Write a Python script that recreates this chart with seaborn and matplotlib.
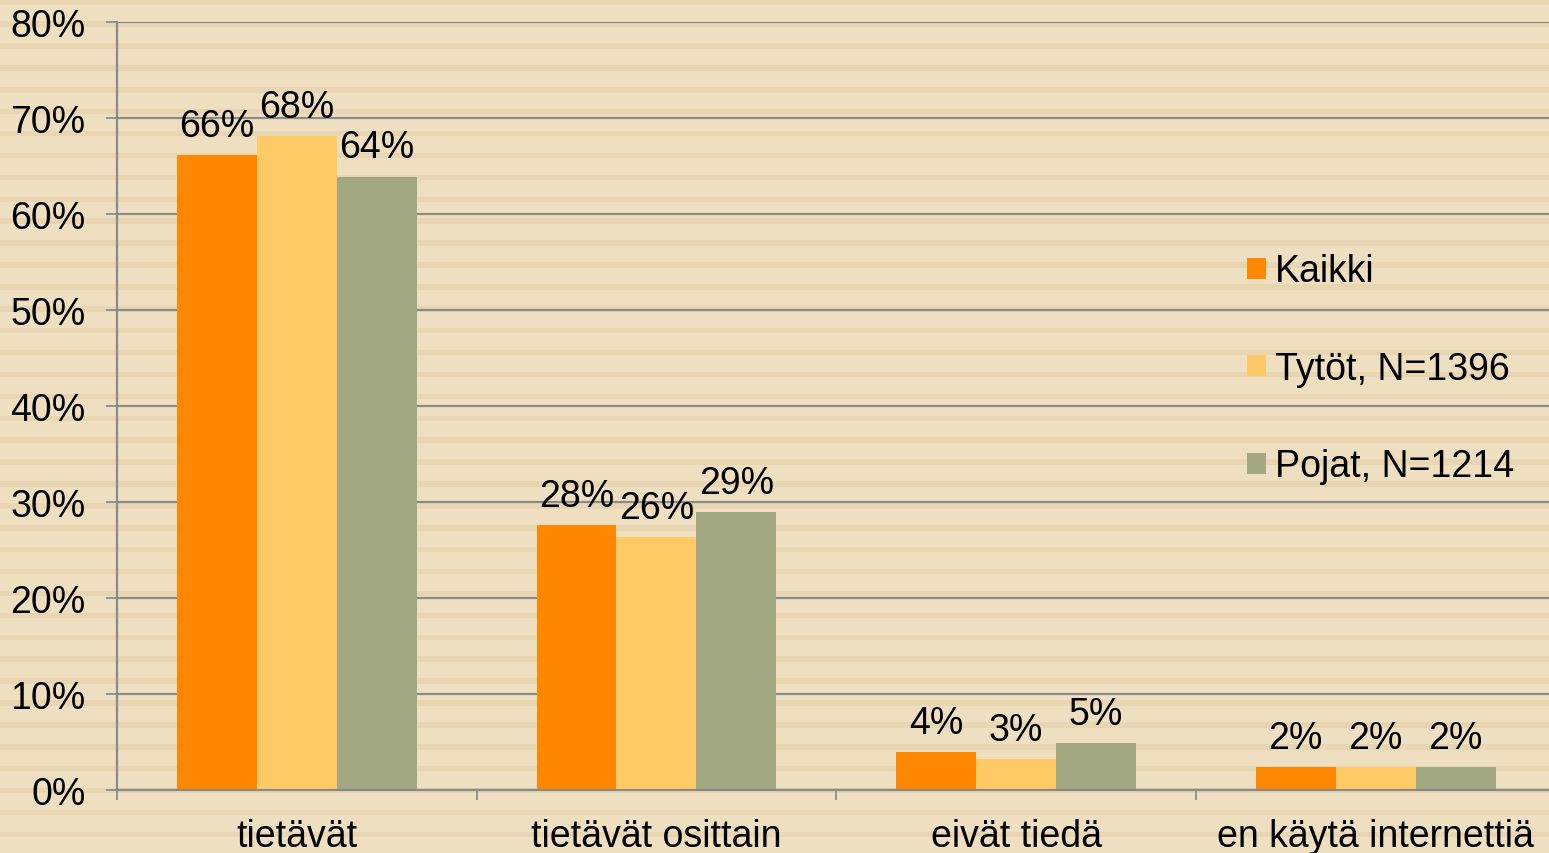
import numpy as np
import pandas as pd
import matplotlib
matplotlib.use("Agg")
import matplotlib.pyplot as plt
import seaborn as sns

# Data
categories = ["tietävät", "tietävät osittain", "eivät tiedä", "en käytä internettiä"]
groups = ["Kaikki", "Tytöt, N=1396", "Pojat, N=1214"]
kaikki = [66.1, 27.6, 3.96, 2.4]
tytot = [68.1, 26.35, 3.23, 2.4]
pojat = [63.9, 28.96, 4.9, 2.4]
y_ticks = [0, 10, 20, 30, 40, 50, 60, 70, 80]
colors = ["#FF8800", "#FFC966", "#A2A982"]

df = pd.DataFrame({
    "category": categories * 3,
    "group": [g for g in groups for _ in categories],
    "value": kaikki + tytot + pojat,
})

sns.set_theme(style="white")
plt.rcParams["font.family"] = ["Liberation Sans", "DejaVu Sans"]
FS = 27

W, H = 1549, 854
fig = plt.figure(figsize=(W / 100, H / 100), dpi=100)

# striped beige background
rows = np.arange(H)
stripe = (rows % 21.9) < 5.5
light = np.array([239, 223, 193]) / 255
dark = np.array([232, 213, 177]) / 255
bg = np.where(stripe[:, None], dark, light)
bg = np.tile(bg[:, None, :], (1, W, 1))
fig.figimage(bg, xo=0, yo=0, origin="upper", zorder=-1)

ax = fig.add_axes([117 / W, (H - 791) / H, 1 - 117 / W, 768 / H])
ax.patch.set_alpha(0)

sns.barplot(data=df, x="category", y="value", hue="group", order=categories,
            hue_order=groups, palette=colors, width=0.667, gap=0,
            saturation=1, ax=ax, linewidth=0)

for cont, vals in zip(ax.containers, [kaikki, tytot, pojat]):
    ax.bar_label(cont, labels=[f"{round(v)}%" for v in vals], padding=8,
                 fontsize=FS, color="black")

ax.set_ylim(0, 80)
ax.set_xlim(-0.5, 3.5 - 6.5 / 359.5)
ax.set_yticks(y_ticks)
ax.set_yticklabels([f"{t}%" for t in y_ticks], fontsize=FS, color="black")
ax.grid(axis="y", color="#8A8A8A", linewidth=1.6)
ax.set_axisbelow(True)

ax.set_xticks([-0.5, 0.5, 1.5, 2.5])
ax.set_xticklabels([])
ax.set_xticks(range(len(categories)), minor=True)
ax.set_xticklabels(categories, minor=True, fontsize=FS, color="black")
ax.tick_params(axis="x", which="major", direction="out", length=7,
               width=1.3, color="#8A8A8A", bottom=True)
ax.tick_params(axis="x", which="minor", length=0, pad=20, bottom=True)
ax.tick_params(axis="y", direction="out", length=8, width=1.3,
               color="#8A8A8A", pad=14.5, left=True)

for s in ["top", "right"]:
    ax.spines[s].set_visible(False)
for s in ["left", "bottom"]:
    ax.spines[s].set_color("#8A8A8A")
    ax.spines[s].set_linewidth(1.6)

ax.set_xlabel("")
ax.set_ylabel("")

ax.legend(loc="center left", bbox_to_anchor=((1247 - 117) / 1432, (791 - 370) / 768),
          frameon=False, fontsize=FS, labelcolor="black", handlelength=0.5,
          handleheight=0.5, handletextpad=0.24, labelspacing=1.64,
          borderpad=0, borderaxespad=0)

fig.savefig("out.png", dpi=100)
